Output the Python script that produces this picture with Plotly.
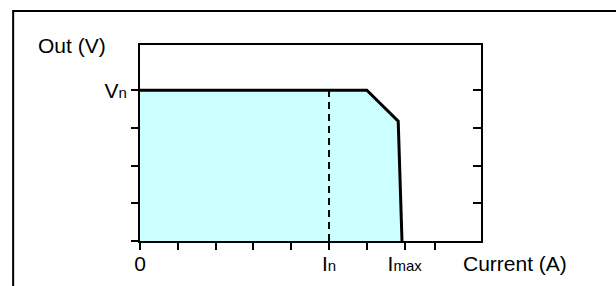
import plotly.graph_objects as go

# Data
curve_x = [0, 6.0, 6.83, 6.93]
curve_y = [4, 4, 3.18, 0]
in_x = [5, 5]
in_y = [0, 4]
x_label_vals = [0, 5, 7]
x_label_text = ["0", "I<span style='font-size:15px'>n</span>",
                "I<span style='font-size:15px'>max</span>"]
x_minor_vals = [1, 2, 3, 4, 6, 7.8]
y_label_vals = [4]
y_label_text = ["V<span style='font-size:15px'>n</span>"]
y_minor_vals = [0, 1, 2, 3]
right_tickvals = [1, 2, 3, 4]
x_title = "Current (A)"
y_title = "Out (V)"

FONT = "Liberation Sans, Arial, sans-serif"
FS = 21

fig = go.Figure()
fig.add_trace(go.Scatter(
    x=curve_x, y=curve_y, mode="lines", fill="tozeroy",
    fillcolor="#CCFFFF", line=dict(color="black", width=3),
    hoverinfo="skip", showlegend=False, cliponaxis=False))
fig.add_trace(go.Scatter(
    x=in_x, y=in_y, mode="lines",
    line=dict(color="black", width=2, dash="7px,5px"),
    hoverinfo="skip", showlegend=False))
fig.add_trace(go.Scatter(
    x=[None], y=[None], yaxis="y2", mode="lines",
    hoverinfo="skip", showlegend=False))

tick_style = dict(ticks="outside", ticklen=7, tickwidth=2, tickcolor="black")

fig.update_layout(
    width=616, height=286,
    margin=dict(l=140, r=135, t=45, b=45, autoexpand=False),
    paper_bgcolor="white", plot_bgcolor="white",
    font=dict(family=FONT, size=FS, color="black"),
    xaxis=dict(range=[0, 9.02], tickmode="array", tickvals=x_label_vals,
               ticktext=x_label_text, **tick_style,
               minor=dict(tickmode="array", tickvals=x_minor_vals, **tick_style),
               showline=True, linecolor="black", linewidth=2, mirror=True,
               showgrid=False, zeroline=False, ticklabelstandoff=-4,
               automargin=False, tickfont=dict(size=FS)),
    yaxis=dict(range=[0, 5.2], tickmode="array", tickvals=y_label_vals,
               ticktext=y_label_text, **tick_style,
               minor=dict(tickmode="array", tickvals=y_minor_vals, **tick_style),
               showline=True, linecolor="black", linewidth=2, mirror=True,
               showgrid=False, zeroline=False, automargin=False,
               tickfont=dict(size=FS)),
    yaxis2=dict(range=[0, 5.2], overlaying="y", side="right",
                tickmode="array", tickvals=right_tickvals, ticks="inside",
                ticklen=8, tickwidth=2, tickcolor="black",
                showticklabels=False, showline=False, showgrid=False,
                zeroline=False, automargin=False),
    annotations=[
        dict(text=y_title, xref="paper", yref="paper", x=-0.199, y=1.0,
             xanchor="center", yanchor="middle", showarrow=False,
             font=dict(size=FS)),
        dict(text=x_title, xref="paper", yref="paper", x=1.1, y=-0.117,
             xanchor="center", yanchor="middle", showarrow=False,
             font=dict(size=FS)),
    ],
    shapes=[dict(type="rect", xref="paper", yref="paper",
                 x0=-0.372, x1=1.6, y0=-0.4, y1=1.173,
                 line=dict(color="black", width=2), layer="below")],
)

fig.write_html("out.html", config={"displayModeBar": False},
               post_script="document.body.style.margin='0';document.body.style.padding='0';")
